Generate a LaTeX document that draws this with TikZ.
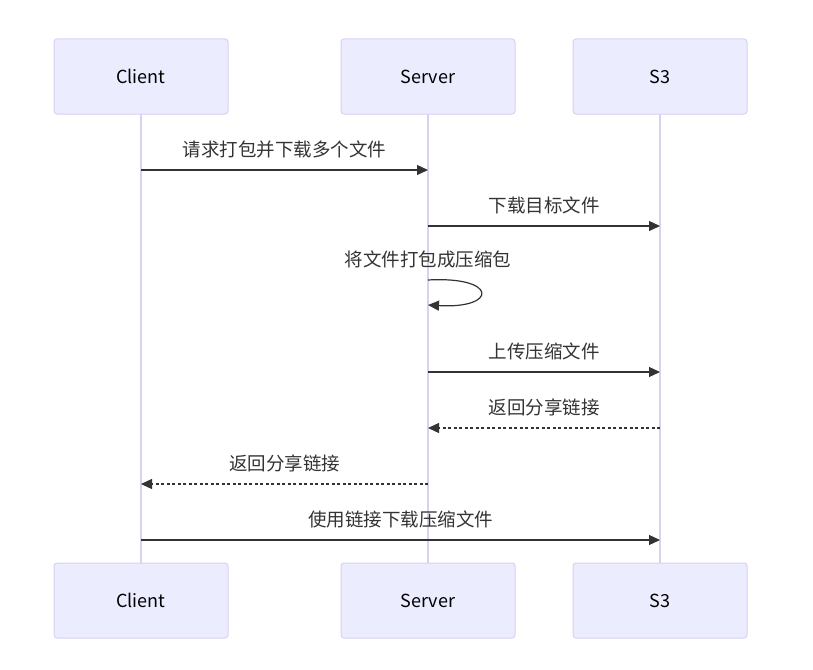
\documentclass[tikz,border=0pt]{standalone}
\usepackage{fontspec}
\setmainfont{Noto Sans CJK SC}
\usetikzlibrary{arrows.meta}
\definecolor{actorfill}{HTML}{ECECFF}
\definecolor{actorline}{HTML}{D9D0F2}
\definecolor{msgline}{HTML}{333333}
\tikzset{
    actor/.style={draw=actorline,fill=actorfill,rounded corners=3pt,line width=1pt,
        minimum width=174pt,minimum height=75pt,font=\fontsize{18}{20}\selectfont},
    lifeline/.style={draw=actorline,line width=1.5pt},
    msg/.style={draw=msgline,line width=1.2pt,-{Triangle[length=11pt,width=10pt]}},
    reply/.style={msg,dash pattern=on 3pt off 2.5pt},
    msglabel/.style={text=msgline,font=\fontsize{18.5}{20}\selectfont,yshift=21pt}
}
\begin{document}
\begin{tikzpicture}[x=1pt,y=-1pt]
    \useasboundingbox (0,0) rectangle (813,669);
    %% actors and lifelines
    \foreach \n/\t/\x in {client/Client/141,server/Server/428,sthree/S3/660}{
        \coordinate (\n top) at (\x,114);
        \coordinate (\n bot) at (\x,563);
        \draw[lifeline] (\n top) -- (\n bot);
        \node[actor] (\n head) at (\x,76.5) {\t};
        \node[actor] (\n foot) at (\x,600.5) {\t};
        \foreach \y in {170,226,280,305,372,428,484,540}
            \coordinate (\n\y) at (\x,\y);
    }
    %% messages
    \draw[msg] (client170) -- (server170) node[msglabel,midway] {请求打包并下载多个文件};
    \draw[msg] (server226) -- (sthree226) node[msglabel,midway] {下载目标文件};
    \draw[msg] (server280) .. controls ++(70,-4) and ++(70,4) .. (server305);
    \node[msglabel] (pack) at (server280) {将文件打包成压缩包};
    \draw[msg] (server372) -- (sthree372) node[msglabel,midway] {上传压缩文件};
    \draw[reply] (sthree428) -- (server428) node[msglabel,midway] {返回分享链接};
    \draw[reply] (server484) -- (client484) node[msglabel,midway] {返回分享链接};
    \draw[msg] (client540) -- (sthree540) node[msglabel,midway] {使用链接下载压缩文件};
\end{tikzpicture}
\end{document}
